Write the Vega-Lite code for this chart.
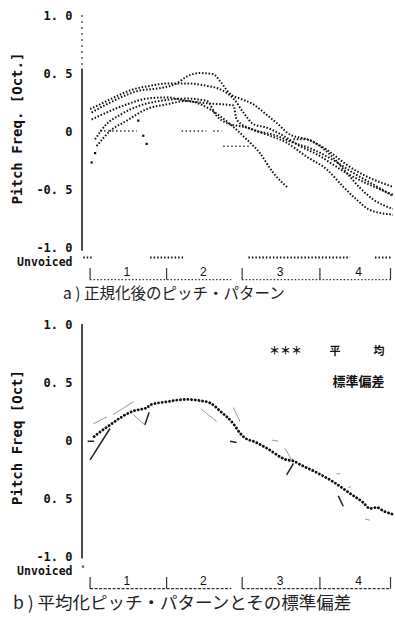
{
  "$schema": "https://vega.github.io/schema/vega-lite/v6.json",
  "padding": {"left": 10, "top": 9, "right": 2, "bottom": 6},
  "background": "white",
  "spacing": 15,
  "config": {"view": {"stroke": null}},
  "datasets": {
    "a_curves": [
      {"s":"A","f":2.6,"v":0.19},{"s":"A","f":5.8,"v":0.23},{"s":"A","f":11.1,"v":0.30},{"s":"A","f":16.5,"v":0.36},{"s":"A","f":21.9,"v":0.39},{"s":"A","f":27.2,"v":0.41},{"s":"A","f":33.7,"v":0.41},{"s":"A","f":40.1,"v":0.39},{"s":"A","f":44.4,"v":0.36},{"s":"A","f":48.7,"v":0.28},{"s":"A","f":51.9,"v":0.16},{"s":"A","f":55.1,"v":0.06},{"s":"A","f":59.4,"v":0.03},{"s":"A","f":64.7,"v":-0.04},{"s":"A","f":70.1,"v":-0.13},{"s":"A","f":75.5,"v":-0.20},{"s":"A","f":80.8,"v":-0.29},{"s":"A","f":86.2,"v":-0.38},{"s":"A","f":91.5,"v":-0.45},{"s":"A","f":100,"v":-0.55},
      {"s":"B","f":3.1,"v":0.16},{"s":"B","f":7.9,"v":0.23},{"s":"B","f":13.3,"v":0.30},{"s":"B","f":18.6,"v":0.35},{"s":"B","f":25.1,"v":0.37},{"s":"B","f":30.4,"v":0.41},{"s":"B","f":33.7,"v":0.47},{"s":"B","f":37.9,"v":0.50},{"s":"B","f":42.2,"v":0.49},{"s":"B","f":44.4,"v":0.43},{"s":"B","f":47.6,"v":0.32},{"s":"B","f":50.8,"v":0.28},{"s":"B","f":55.1,"v":0.23},{"s":"B","f":59.4,"v":0.14},{"s":"B","f":62.6,"v":0.07},{"s":"B","f":66.9,"v":-0.03},{"s":"B","f":72.2,"v":-0.07},{"s":"B","f":78.7,"v":-0.16},{"s":"B","f":85.1,"v":-0.29},{"s":"B","f":91.5,"v":-0.39},{"s":"B","f":100,"v":-0.48},
      {"s":"C","f":3.1,"v":0.10},{"s":"C","f":7.9,"v":0.16},{"s":"C","f":14.4,"v":0.23},{"s":"C","f":20.8,"v":0.28},{"s":"C","f":27.2,"v":0.29},{"s":"C","f":33.7,"v":0.26},{"s":"C","f":40.1,"v":0.24},{"s":"C","f":48.7,"v":0.22},{"s":"C","f":49.7,"v":0.10},{"s":"C","f":55.1,"v":0.01},{"s":"C","f":61.5,"v":-0.03},{"s":"C","f":68.0,"v":-0.10},{"s":"C","f":74.4,"v":-0.16},{"s":"C","f":80.8,"v":-0.25},{"s":"C","f":87.2,"v":-0.36},{"s":"C","f":93.7,"v":-0.46},{"s":"C","f":100,"v":-0.56},
      {"s":"D","f":4.2,"v":-0.07},{"s":"D","f":7.9,"v":0.06},{"s":"D","f":12.2,"v":0.14},{"s":"D","f":18.6,"v":0.22},{"s":"D","f":25.1,"v":0.26},{"s":"D","f":33.7,"v":0.28},{"s":"D","f":40.1,"v":0.26},{"s":"D","f":43.3,"v":0.13},{"s":"D","f":46.5,"v":0.07},{"s":"D","f":52.9,"v":0.03},{"s":"D","f":59.4,"v":-0.03},{"s":"D","f":65.8,"v":-0.10},{"s":"D","f":72.2,"v":-0.22},{"s":"D","f":78.7,"v":-0.33},{"s":"D","f":84.0,"v":-0.48},{"s":"D","f":88.3,"v":-0.59},{"s":"D","f":92.6,"v":-0.68},{"s":"D","f":100,"v":-0.72},
      {"s":"E","f":4.7,"v":-0.13},{"s":"E","f":9.0,"v":0.00},{"s":"E","f":14.4,"v":0.09},{"s":"E","f":20.8,"v":0.19},{"s":"E","f":27.2,"v":0.23},{"s":"E","f":33.7,"v":0.26},{"s":"E","f":42.2,"v":0.17},{"s":"E","f":47.6,"v":0.06},{"s":"E","f":52.9,"v":-0.07},{"s":"E","f":57.2,"v":-0.19},{"s":"E","f":61.5,"v":-0.36},{"s":"E","f":66.3,"v":-0.49},
      {"s":"F","f":68.0,"v":-0.07},{"s":"F","f":72.2,"v":-0.07},{"s":"F","f":76.5,"v":-0.13},{"s":"F","f":80.8,"v":-0.23},{"s":"F","f":85.1,"v":-0.36},{"s":"F","f":89.4,"v":-0.49},{"s":"F","f":93.7,"v":-0.59},{"s":"F","f":100,"v":-0.67}
    ],
    "a_flat": [
      {"f":5.8,"f2":17.6,"v":0},{"f":32,"f2":40,"v":0},{"f":42.2,"f2":44.9,"v":0},{"f":45.4,"f2":54,"v":-0.13}
    ],
    "a_pts": [
      {"f":18.1,"v":0.09},{"f":19.7,"v":-0.04},{"f":20.8,"v":-0.11},{"f":3.1,"v":-0.27},{"f":4.2,"v":-0.19}
    ],
    "a_unv": [
      {"f":0.4,"f2":3.1},{"f":21.9,"f2":32.6},{"f":53.5,"f2":86.2},{"f":94.2,"f2":99.6}
    ],
    "b_unv": [{"f":0.3}],
    "b_mean": [
      {"f":3.9,"v":0.03},{"f":5.8,"v":0.07},{"f":9.0,"v":0.13},{"f":12.2,"v":0.19},{"f":16.5,"v":0.25},{"f":19.7,"v":0.27},{"f":21.1,"v":0.28},{"f":21.6,"v":0.30},{"f":27.2,"v":0.33},{"f":33.7,"v":0.35},{"f":37.9,"v":0.34},{"f":41.2,"v":0.32},{"f":44.4,"v":0.25},{"f":48.7,"v":0.14},{"f":50.8,"v":0.06},{"f":52.9,"v":0.01},{"f":55.1,"v":-0.01},{"f":59.4,"v":-0.07},{"f":65.8,"v":-0.17},{"f":68.0,"v":-0.18},{"f":70.1,"v":-0.21},{"f":75.5,"v":-0.28},{"f":80.8,"v":-0.36},{"f":86.2,"v":-0.46},{"f":90.5,"v":-0.54},{"f":92.6,"v":-0.59},{"f":94.8,"v":-0.58},{"f":96.9,"v":-0.61},{"f":100,"v":-0.64}
    ],
    "b_sd_strong": [
      {"f":2.6,"v":-0.17,"f2":9.0,"v2":0.10},{"f":1.8,"v":-0.01,"f2":3.9,"v2":-0.01},{"f":20.2,"v":0.13,"f2":21.6,"v2":0.24},{"f":65.8,"v":-0.30,"f2":68.0,"v2":-0.20},{"f":82.4,"v":-0.48,"f2":84.0,"v2":-0.57},{"f":47.6,"v":-0.01,"f2":49.7,"v2":-0.02}
    ],
    "b_sd_faint": [
      {"f":3.6,"v":0.14,"f2":8.0,"v2":0.20},{"f":10.0,"v":0.22,"f2":16.5,"v2":0.33},{"f":16.5,"v":0.22,"f2":20.2,"v2":0.13},{"f":38.2,"v":0.27,"f2":43.3,"v2":0.16},{"f":48.7,"v":0.28,"f2":50.8,"v2":0.16},{"f":61.0,"v":0.0,"f2":63.1,"v2":-0.01},{"f":65.3,"v":-0.07,"f2":67.4,"v2":-0.17},{"f":81.9,"v":-0.29,"f2":83.0,"v2":-0.29},{"f":85.6,"v":-0.41,"f2":86.5,"v2":-0.40},{"f":91.0,"v":-0.68,"f2":92.6,"v2":-0.69}
    ],
    "brk_ticks": [{"f":2.6},{"f":27.2},{"f":51.5},{"f":76.5},{"f":99.2}],
    "brk_lines": [{"f":2.6,"f2":48},{"f":51.5,"f2":99.2}],
    "brk_labels": [{"f":14.4,"label":"1"},{"f":39,"label":"2"},{"f":63.7,"label":"3"},{"f":88.9,"label":"4"}]
  },
  "vconcat": [
    {
      "width": 311,
      "height": 267,
      "title": {"text": "a ) 正規化後のピッチ・パターン", "orient": "bottom", "anchor": "start", "frame": "group", "dx": -19, "offset": 5, "font": "Noto Sans CJK JP", "fontSize": 15.5, "fontWeight": "normal", "color": "#222"},
      "layer": [
        {
          "data": {"name": "a_curves"},
          "mark": {"type": "line", "interpolate": "monotone", "color": "#111", "strokeWidth": 2, "strokeDash": [1.5, 1.8]},
          "encoding": {
            "x": {"field": "f", "type": "quantitative", "scale": {"domain": [0, 100], "nice": false, "zero": false}, "axis": null},
            "y": {"field": "v", "type": "quantitative", "scale": {"domain": [-1.3, 1], "nice": false, "zero": false},
              "axis": {
                "values": [1, 0.5, 0, -0.5, -1, -1.13],
                "labelExpr": "datum.value < -1.05 ? 'Unvoiced' : datum.value == 0 ? '0' : datum.value == 1 ? '1. 0' : datum.value == 0.5 ? '0. 5' : datum.value == -0.5 ? '-0. 5' : '-1. 0'",
                "labelFont": "DejaVu Sans Mono", "labelFontWeight": "bold",
                "labelFontSize": {"condition": {"test": "datum.value < -1.05", "value": 11.5}, "value": 12},
                "labelColor": "#111", "labelOverlap": false, "labelPadding": 10,
                "ticks": false, "domain": false, "grid": false,
                "title": "Pitch Freq. [Oct.]", "titleFont": "DejaVu Sans Mono", "titleFontSize": 14, "titleFontWeight": "bold", "titleColor": "#111",
                "titleX": -65, "titleY": 113, "titleAngle": 270, "titleAlign": "center", "titleBaseline": "middle"
              }
            },
            "detail": {"field": "s"}
          }
        },
        {
          "data": {"values": [{}]},
          "mark": {"type": "rule", "color": "#111", "strokeWidth": 1.5},
          "encoding": {"x": {"datum": 0, "axis": null}, "y": {"datum": 0.54}, "y2": {"datum": -1.03}}
        },
        {
          "data": {"values": [{}]},
          "mark": {"type": "rule", "color": "#333", "strokeWidth": 1.2, "strokeDash": [2, 4]},
          "encoding": {"x": {"datum": 0, "axis": null}, "y": {"datum": 1.0}, "y2": {"datum": 0.54}}
        },
        {
          "data": {"name": "a_flat"},
          "mark": {"type": "rule", "color": "#333", "strokeWidth": 1.5, "strokeDash": [1.5, 2.5]},
          "encoding": {"x": {"field": "f", "type": "quantitative", "axis": null}, "x2": {"field": "f2"}, "y": {"field": "v", "type": "quantitative"}}
        },
        {
          "data": {"name": "a_pts"},
          "mark": {"type": "square", "color": "#111", "size": 5, "opacity": 1},
          "encoding": {"x": {"field": "f", "type": "quantitative", "axis": null}, "y": {"field": "v", "type": "quantitative"}}
        },
        {
          "data": {"name": "a_unv"},
          "mark": {"type": "rule", "color": "#111", "strokeWidth": 2, "strokeDash": [1.5, 2]},
          "encoding": {"x": {"field": "f", "type": "quantitative", "axis": null}, "x2": {"field": "f2"}, "y": {"datum": -1.09}}
        },
        {
          "data": {"name": "brk_lines"},
          "mark": {"type": "rule", "color": "#333", "strokeWidth": 1.2, "strokeDash": [1.5, 2]},
          "encoding": {"x": {"field": "f", "type": "quantitative", "axis": null}, "x2": {"field": "f2"}, "y": {"datum": -1.28}}
        },
        {
          "data": {"name": "brk_ticks"},
          "mark": {"type": "rule", "color": "#333", "strokeWidth": 1.2},
          "encoding": {"x": {"field": "f", "type": "quantitative", "axis": null}, "y": {"datum": -1.18}, "y2": {"datum": -1.28}}
        },
        {
          "data": {"name": "brk_labels"},
          "mark": {"type": "text", "font": "Liberation Sans", "fontSize": 12, "color": "#111", "baseline": "middle"},
          "encoding": {"x": {"field": "f", "type": "quantitative", "axis": null}, "y": {"datum": -1.215}, "text": {"field": "label"}}
        }
      ]
    },
    {
      "width": 311,
      "height": 267,
      "title": {"text": "b ) 平均化ピッチ・パターンとその標準偏差", "orient": "bottom", "anchor": "start", "frame": "group", "dx": -69, "offset": 4, "font": "Noto Sans CJK JP", "fontSize": 17.5, "fontWeight": "normal", "color": "#222"},
      "layer": [
        {
          "data": {"name": "b_mean"},
          "mark": {"type": "line", "interpolate": "monotone", "color": "#111", "strokeWidth": 2.8, "strokeDash": [0.1, 3.6], "strokeCap": "round"},
          "encoding": {
            "x": {"field": "f", "type": "quantitative", "scale": {"domain": [0, 100], "nice": false, "zero": false}, "axis": null},
            "y": {"field": "v", "type": "quantitative", "scale": {"domain": [-1.3, 1], "nice": false, "zero": false},
              "axis": {
                "values": [1, 0.5, 0, -0.5, -1, -1.13],
                "labelExpr": "datum.value < -1.05 ? 'Unvoiced' : datum.value == 0 ? '0' : datum.value == 1 ? '1. 0' : datum.value == 0.5 ? '0. 5' : datum.value == -0.5 ? '0. 5' : '-1. 0'",
                "labelFont": "DejaVu Sans Mono", "labelFontWeight": "bold",
                "labelFontSize": {"condition": {"test": "datum.value < -1.05", "value": 11.5}, "value": 12},
                "labelColor": "#111", "labelOverlap": false, "labelPadding": 10,
                "ticks": false, "domain": false, "grid": false,
                "title": "Pitch Freq [Oct]", "titleFont": "DejaVu Sans Mono", "titleFontSize": 14, "titleFontWeight": "bold", "titleColor": "#111",
                "titleX": -65, "titleY": 113, "titleAngle": 270, "titleAlign": "center", "titleBaseline": "middle"
              }
            }
          }
        },
        {
          "data": {"values": [{}]},
          "mark": {"type": "rule", "color": "#111", "strokeWidth": 1.5},
          "encoding": {"x": {"datum": 0, "axis": null}, "y": {"datum": 1.0}, "y2": {"datum": -1.02}}
        },
        {
          "data": {"name": "b_sd_strong"},
          "mark": {"type": "rule", "color": "#222", "strokeWidth": 1.5},
          "encoding": {"x": {"field": "f", "type": "quantitative", "axis": null}, "x2": {"field": "f2"}, "y": {"field": "v", "type": "quantitative"}, "y2": {"field": "v2"}}
        },
        {
          "data": {"name": "b_sd_faint"},
          "mark": {"type": "rule", "color": "#999", "strokeWidth": 1},
          "encoding": {"x": {"field": "f", "type": "quantitative", "axis": null}, "x2": {"field": "f2"}, "y": {"field": "v", "type": "quantitative"}, "y2": {"field": "v2"}}
        },
        {
          "data": {"name": "b_unv"},
          "mark": {"type": "square", "color": "#111", "size": 5},
          "encoding": {"x": {"field": "f", "type": "quantitative", "axis": null}, "y": {"datum": -1.09}}
        },
        {
          "data": {"values": [{}]},
          "mark": {"type": "text", "font": "Noto Sans CJK JP", "fontSize": 11, "fontWeight": "bold", "color": "#111", "align": "right", "baseline": "middle"},
          "encoding": {"x": {"datum": 70.7, "axis": null}, "y": {"datum": 0.76}, "text": {"value": "＊＊＊"}}
        },
        {
          "data": {"values": [{}]},
          "mark": {"type": "text", "font": "Noto Sans CJK JP", "fontSize": 11, "fontWeight": "bold", "color": "#111", "align": "right", "baseline": "middle"},
          "encoding": {"x": {"datum": 97.3, "axis": null}, "y": {"datum": 0.76}, "text": {"value": "平　　　均"}}
        },
        {
          "data": {"values": [{}]},
          "mark": {"type": "text", "font": "Noto Sans CJK JP", "fontSize": 13, "fontWeight": "bold", "color": "#111", "align": "right", "baseline": "middle"},
          "encoding": {"x": {"datum": 97.3, "axis": null}, "y": {"datum": 0.50}, "text": {"value": "標準偏差"}}
        },
        {
          "data": {"name": "brk_lines"},
          "mark": {"type": "rule", "color": "#333", "strokeWidth": 1.2, "strokeDash": [3, 1.5]},
          "encoding": {"x": {"field": "f", "type": "quantitative", "axis": null}, "x2": {"field": "f2"}, "y": {"datum": -1.28}}
        },
        {
          "data": {"name": "brk_ticks"},
          "mark": {"type": "rule", "color": "#333", "strokeWidth": 1.2},
          "encoding": {"x": {"field": "f", "type": "quantitative", "axis": null}, "y": {"datum": -1.18}, "y2": {"datum": -1.28}}
        },
        {
          "data": {"name": "brk_labels"},
          "mark": {"type": "text", "font": "Liberation Sans", "fontSize": 12, "color": "#111", "baseline": "middle"},
          "encoding": {"x": {"field": "f", "type": "quantitative", "axis": null}, "y": {"datum": -1.215}, "text": {"field": "label"}}
        }
      ]
    }
  ]
}
